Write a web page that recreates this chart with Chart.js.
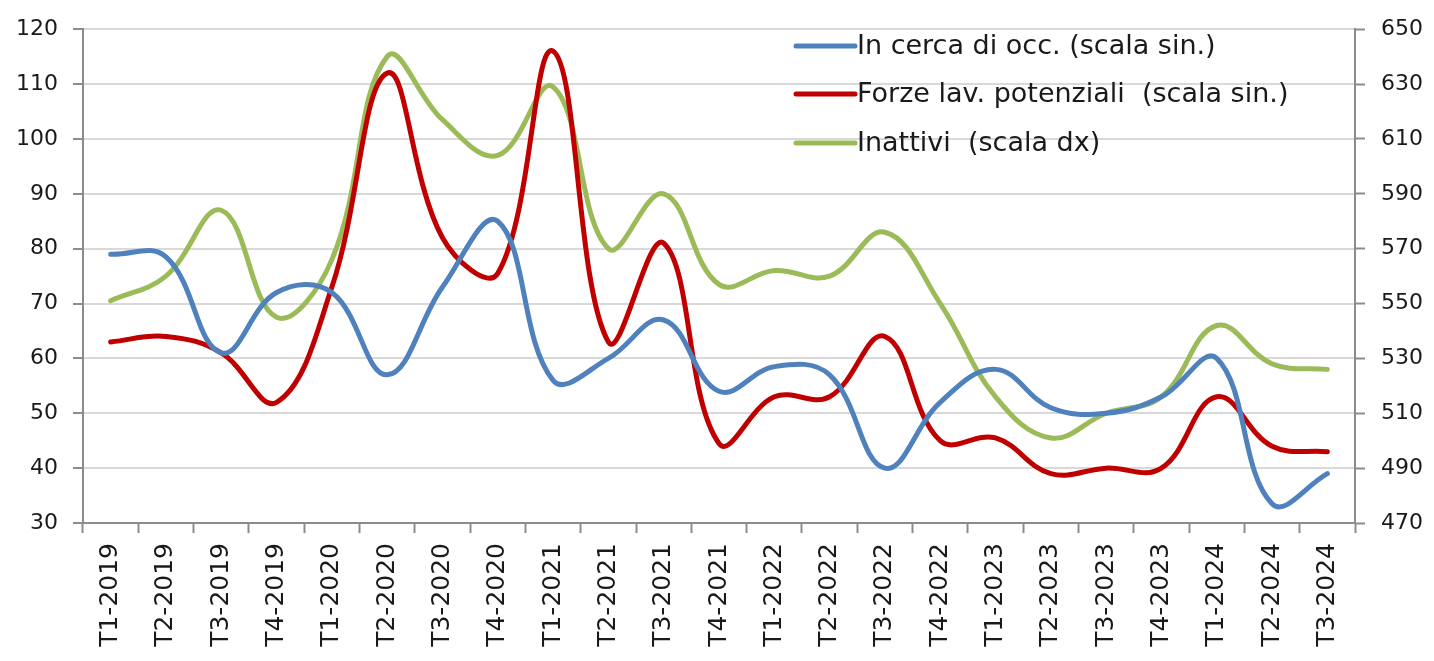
<!DOCTYPE html>
<html><head><meta charset="utf-8">
<script src="https://cdn.jsdelivr.net/npm/chart.js@4"></script>
<style>html,body{margin:0;padding:0;background:#fff;} #wrap{width:1434px;height:661px;}</style>
</head><body><div id="wrap"><canvas id="c" width="1434" height="661"></canvas></div>
<script>
const categories = ['T1-2019','T2-2019','T3-2019','T4-2019','T1-2020','T2-2020','T3-2020','T4-2020','T1-2021','T2-2021','T3-2021','T4-2021','T1-2022','T2-2022','T3-2022','T4-2022','T1-2023','T2-2023','T3-2023','T4-2023','T1-2024','T2-2024','T3-2024'];
const inCercaDiOcc = [79, 78.5, 61, 72, 72, 57, 73, 85, 56, 60, 67, 54, 58.5, 57, 40, 52, 58, 51, 50, 53, 60, 33.5, 39];
const forzeLavPotenziali = [63, 64, 61, 52, 73, 112, 82, 75.5, 116, 63, 81, 44.5, 53, 53, 64, 45, 45.5, 39, 40, 40, 53, 44, 43];
const inattivi = [551, 560, 584, 545, 566, 640, 617, 604, 629, 570, 590, 557, 562, 560, 576, 550, 516, 501, 510, 516, 542, 528, 526];
const seriesLabels = ['In cerca di occ. (scala sin.)', 'Forze lav. potenziali  (scala sin.)', 'Inattivi  (scala dx)'];
const leftMin = 30, leftMax = 120, leftStep = 10;
const rightMin = 470, rightMax = 650, rightStep = 20;

const AXIS = '#8c8c8c', GRID = '#d9d9d9', TXT = '#1a1a1a', FONT = 'DejaVu Sans';

const legendPlugin = {
  id: 'customLegend',
  afterDraw(chart) {
    const ctx = chart.ctx;
    ctx.save();
    const x0 = 796, x1 = 855, tx = 857;
    const ys = [46, 94, 143];
    chart.data.datasets.forEach((ds, i) => {
      ctx.strokeStyle = ds.borderColor; ctx.lineWidth = 5; ctx.lineCap = 'round';
      ctx.beginPath(); ctx.moveTo(x0, ys[i]); ctx.lineTo(x1, ys[i]); ctx.stroke();
      ctx.fillStyle = TXT; ctx.font = '27px "' + FONT + '"'; ctx.textBaseline = 'alphabetic';
      ctx.fillText(ds.label, tx, ys[i] + 8);
    });
    ctx.restore();
  }
};

new Chart(document.getElementById('c'), {
  type: 'line',
  data: {
    labels: categories,
    datasets: [
      { label: seriesLabels[0], data: inCercaDiOcc, borderColor: '#4f81bd', yAxisID: 'y' },
      { label: seriesLabels[1], data: forzeLavPotenziali, borderColor: '#c00000', yAxisID: 'y' },
      { label: seriesLabels[2], data: inattivi, borderColor: '#9bbb59', yAxisID: 'y1' }
    ]
  },
  options: {
    responsive: false,
    animation: false,
    layout: { padding: { top: 24, left: 0, right: 0, bottom: 0 } },
    elements: {
      point: { radius: 0, hoverRadius: 0 },
      line: { borderWidth: 5, tension: 0.4, fill: false, borderCapStyle: 'round', borderJoinStyle: 'round' }
    },
    plugins: { legend: { display: false }, tooltip: { enabled: false } },
    scales: {
      x: {
        type: 'category', offset: true,
        grid: { offset: true, drawOnChartArea: false, drawTicks: true, tickLength: 10, tickColor: AXIS, tickWidth: 2 },
        border: { color: AXIS, width: 2 },
        ticks: { autoSkip: false, minRotation: 90, maxRotation: 90, padding: 10, color: TXT, font: { family: FONT, size: 25 } },
        afterFit: s => { s.height = 138; }
      },
      y: {
        position: 'left', min: leftMin, max: leftMax,
        grid: { color: GRID, lineWidth: 2, tickLength: 10, tickColor: AXIS, tickWidth: 2 },
        border: { color: AXIS, width: 2 },
        ticks: { stepSize: leftStep, padding: 15, color: TXT, font: { family: FONT, size: 22 } },
        afterFit: s => { s.width = 83; }
      },
      y1: {
        position: 'right', min: rightMin, max: rightMax,
        grid: { drawOnChartArea: false, tickLength: 10, tickColor: AXIS, tickWidth: 2 },
        border: { color: AXIS, width: 2 },
        ticks: { stepSize: rightStep, padding: 16, color: TXT, font: { family: FONT, size: 22 } },
        afterFit: s => { s.width = 79; }
      }
    }
  },
  plugins: [legendPlugin]
});
</script></body></html>
